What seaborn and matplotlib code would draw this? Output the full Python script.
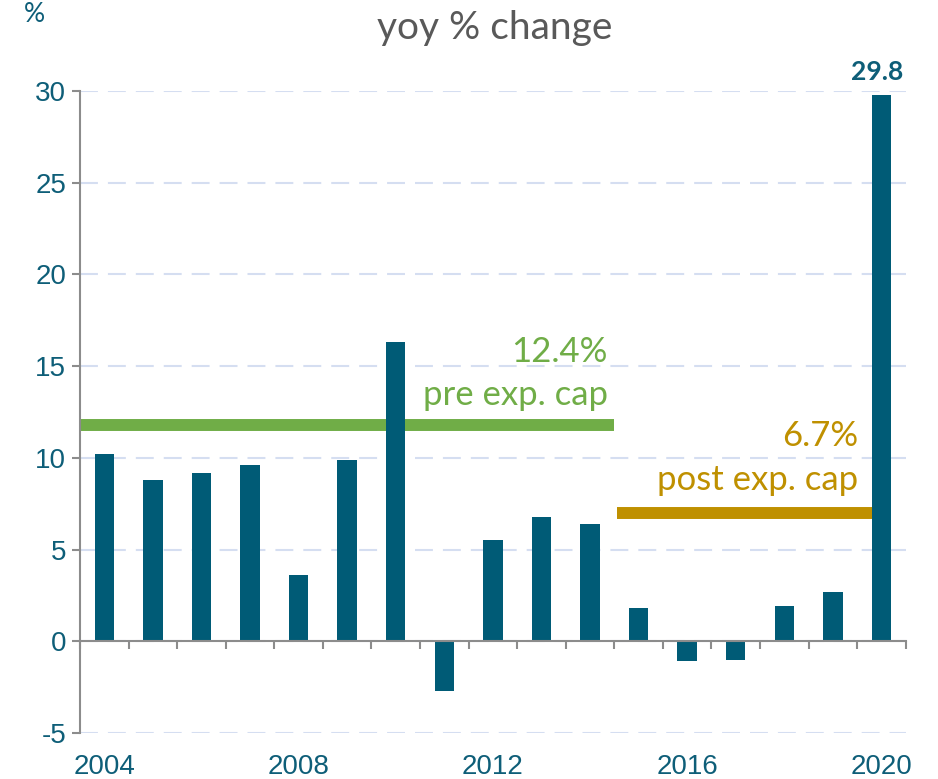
import matplotlib
matplotlib.use("Agg")
import matplotlib.pyplot as plt
import seaborn as sns
import pandas as pd
import numpy as np

# ---- data ----
years = [2004, 2005, 2006, 2007, 2008, 2009, 2010, 2011, 2012, 2013,
         2014, 2015, 2016, 2017, 2018, 2019, 2020]
yoy_change = [10.2, 8.8, 9.2, 9.6, 3.6, 9.9, 16.3, -2.7, 5.5, 6.8,
              6.4, 1.8, -1.1, -1.0, 1.9, 2.7, 29.8]
labelled_years = [2004, 2008, 2012, 2016, 2020]
pre_cap_level = 11.8
post_cap_level = 7.0
pre_cap_label = ["12.4%", "pre exp. cap"]
post_cap_label = ["6.7%", "post exp. cap"]
peak_label = "29.8"
y_ticks = [-5, 0, 5, 10, 15, 20, 25, 30]

BAR = "#005B76"
TEAL_TXT = "#0E5E78"
GREEN = "#70AD47"
GOLD = "#BF9000"
GRID = "#D5DEF1"
AXIS = "#8C8C8C"

sns.set_theme(style="white")
plt.rcParams['font.family'] = ['Liberation Sans', 'DejaVu Sans']
plt.rcParams['axes.unicode_minus'] = False

df = pd.DataFrame({"year": [str(y) for y in years], "yoy": yoy_change})

fig = plt.figure(figsize=(9.38, 7.79), dpi=100)
ax = fig.add_axes([80/938, 1-733/779, (905.7-80)/938, (733-91)/779])

sns.barplot(data=df, x="year", y="yoy", color=BAR, width=0.4,
            saturation=1, linewidth=0, ax=ax, zorder=3)

ax.set_xlim(-0.5, len(years) - 0.5)
ax.set_ylim(-5, 30)

# gridlines
ax.set_yticks(y_ticks)
ax.yaxis.grid(True, color=GRID, linewidth=1.5, linestyle=(0, (8.6, 4.8)), zorder=0)
ax.xaxis.grid(False)

# spines
for s in ["top", "right", "bottom"]:
    ax.spines[s].set_visible(False)
ax.spines["left"].set_color(AXIS)
ax.spines["left"].set_linewidth(1.5)
ax.tick_params(axis="y", direction="out", length=6, width=1.5, color=AXIS,
               labelcolor=TEAL_TXT, labelsize=20, pad=4, left=True)

# bottom labels at bottom of axes
pos = [years.index(y) for y in labelled_years]
ax.set_xticks(pos)
ax.set_xticklabels([str(y) for y in labelled_years])
ax.tick_params(axis="x", length=0, labelcolor=TEAL_TXT, labelsize=20, pad=15, bottom=True)
ax.set_xlabel("")
ax.set_ylabel("")

# zero axis with category-boundary ticks
zero_frac = (0 - (-5)) / 35
sec = ax.secondary_xaxis(zero_frac)
sec.set_xticks(np.arange(-0.5, len(years), 1.0))
sec.tick_params(axis="x", direction="out", length=6, width=1.5, color=AXIS,
                labelbottom=False, bottom=True)
sec.spines["bottom"].set_color(AXIS)
sec.spines["bottom"].set_linewidth(1.5)
sec.set_zorder(4)

# average lines
n_pre = years.index(2015)
ax.hlines(pre_cap_level, -0.5, n_pre - 0.5, color=GREEN, linewidth=8.6,
          zorder=2)
ax.hlines(post_cap_level, n_pre - 0.45, len(years) - 1 - 0.2, color=GOLD,
          linewidth=8.6, zorder=2)

txt_font = ['Lato', 'DejaVu Sans']
ax.text(n_pre - 0.63, 15.22, pre_cap_label[0], ha="right", va="baseline",
        color=GREEN, fontsize=25, family=txt_font)
ax.text(n_pre - 0.63, 12.87, pre_cap_label[1], ha="right", va="baseline",
        color=GREEN, fontsize=25, family=txt_font)
ax.text(len(years) - 1.48, 10.65, post_cap_label[0], ha="right", va="baseline",
        color=GOLD, fontsize=25, family=txt_font)
ax.text(len(years) - 1.48, 8.24, post_cap_label[1], ha="right", va="baseline",
        color=GOLD, fontsize=25, family=txt_font)

# peak label
ax.text(len(years) - 1.08, 30.6, peak_label, ha="center",
        va="baseline", color=TEAL_TXT, fontsize=19, fontweight="bold",
        family=txt_font, clip_on=False)

fig.text(495/938, 1-28/779, "yoy % change", ha="center", va="center",
         color="#595959", fontsize=28, family=txt_font)
fig.text(34/938, 1-15/779, "%", ha="center", va="center",
         color=TEAL_TXT, fontsize=19, family=txt_font)

fig.savefig("out.png", dpi=100)
